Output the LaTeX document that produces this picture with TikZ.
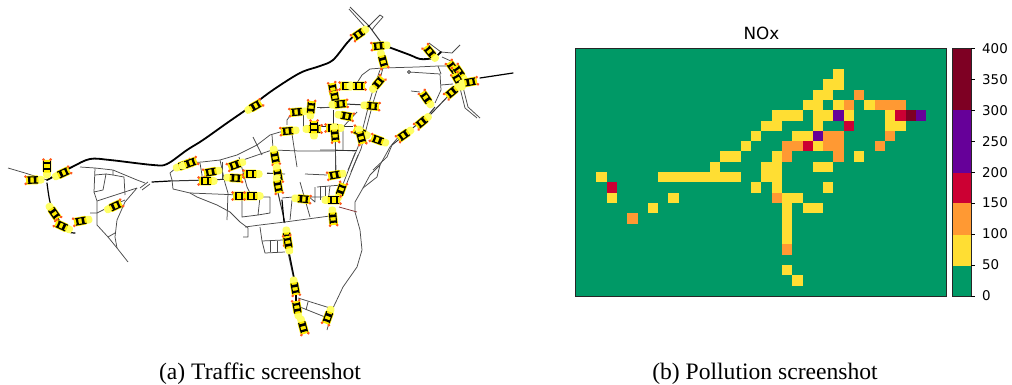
\documentclass[tikz,border=0pt]{standalone}
\usepackage{fontspec}
\setmainfont{Liberation Serif}
\newfontfamily\plotfont{DejaVu Sans}
\definecolor{aqiA}{HTML}{009966}
\definecolor{aqiB}{HTML}{FFDE33}
\definecolor{aqiC}{HTML}{FF9933}
\definecolor{aqiD}{HTML}{CC0033}
\definecolor{aqiE}{HTML}{660099}
\definecolor{aqiF}{HTML}{7E0023}
\definecolor{roadgray}{HTML}{4A4A4A}
\definecolor{tailyellow}{HTML}{FFFF66}
\definecolor{caryellow}{HTML}{FFEE00}
\definecolor{lampred}{HTML}{FF5A1E}
\tikzset{
  minor/.style={draw=roadgray,line width=0.75pt,line join=round},
  medium/.style={draw=black!80,line width=1pt,line join=round},
  major/.style={draw=black,line width=1.8pt,line join=round,line cap=round},
  ticklabel/.style={font=\plotfont\fontsize{13.4}{14}\selectfont,anchor=west,inner sep=0pt},
  capt/.style={font=\fontsize{23.6}{26}\selectfont,anchor=base,inner sep=0pt},
  car/.pic={
    \fill[tailyellow,rounded corners=3pt] (-11.5,-3.8) rectangle (0,3.8);
    \fill[caryellow,rounded corners=1pt] (-5.5,-4.4) rectangle (7,4.4);
    \fill[black] (-5,-3.7) rectangle (5.5,-2.6);
    \fill[black] (-5,2.6) rectangle (5.5,3.7);
    \fill[black] (-3.4,-3) rectangle (-0.8,3);
    \fill[black] (2.6,-3) rectangle (4.8,3);
    \fill[lampred] (7.4,-3.6) circle (1.5);
    \fill[lampred] (7.4,3.6) circle (1.5);
  }
}
\begin{document}
\begin{tikzpicture}[x=1pt,y=-1pt]
\useasboundingbox (0,0) rectangle (1012,385);
% --- road network ---
\foreach \p in {
 {(8,168) -- (25,173) -- (47,180)},
 {(80,167) -- (95,168) -- (113,170) -- (137,180) -- (145,183)},
 {(95,168) -- (94,192) -- (103,190) -- (106,174) -- (95,175)},
 {(113,170) -- (113,175) -- (124,177) -- (125,195)},
 {(106,174) -- (113,175)},
 {(94,192) -- (97,201) -- (97,225) -- (108,237) -- (117,248) -- (128,262)},
 {(97,201) -- (137,188)},
 {(148,182) -- (140,188)},{(150,184) -- (142,190)},
 {(137,188) -- (125,202) -- (117,220) -- (115,237) -- (117,248)},
 {(108,237) -- (115,233)},
 {(90,213) -- (97,213) -- (107,208) -- (125,200)},
 {(172,180) -- (170,173) -- (177,167) -- (187,163) -- (202,162) -- (220,160) -- (237,155) -- (257,145) -- (270,135) -- (280,132) -- (288,131)},
 {(172,180) -- (173,189) -- (190,193) -- (240,195)},
 {(190,193) -- (197,197) -- (217,205) -- (230,212) -- (240,222) -- (248,228) -- (248,237) -- (243,237)},
 {(200,163) -- (202,175) -- (202,180)},
 {(222,162) -- (222,180)},
 {(220,160) -- (225,183) -- (228,193) -- (227,220)},
 {(242,195) -- (242,217) -- (258,215) -- (270,213) -- (270,197) -- (260,197) -- (258,215)},
 {(239,157) -- (247,187) -- (250,193)},
 {(243,160) -- (272,150) -- (300,151) -- (335,151)},
 {(253,137) -- (262,155)},
 {(272,135) -- (273,148)},
 {(287,125) -- (287,120) -- (292,113)},
 {(292,134) -- (297,167)},
 {(267,173) -- (285,174)},{(305,174) -- (327,175)},
 {(245,227) -- (260,225) -- (285,222) -- (330,216)},
 {(282,198) -- (293,197) -- (327,197)},
 {(292,200) -- (290,220)},
 {(300,182) -- (310,217)},
 {(317,187) -- (342,185)},
 {(315,187) -- (315,202) -- (308,196)},
 {(320,186) -- (320,200)},{(325,186) -- (325,198)},{(330,186) -- (328,202)},
 {(335,128) -- (335,173)},
 {(355,153) -- (340,192)},{(358,155) -- (343,193)},
 {(343,150) -- (343,127) -- (357,112)},
 {(355,212) -- (360,230) -- (362,250) -- (357,267) -- (343,287) -- (333,308) -- (327,330)},
 {(355,212) -- (355,202) -- (363,188) -- (370,175) -- (380,165) -- (390,147) -- (400,135)},
 {(380,165) -- (377,177) -- (363,188)},
 {(298,298) -- (330,308)},{(300,307) -- (325,317)},{(308,302) -- (306,310)},
 {(260,227) -- (262,241) -- (265,253) -- (285,252)},
 {(262,241) -- (283,240)},{(270,241) -- (270,252)},{(277,241) -- (277,252)},
 {(320,108) -- (332,107)},{(317,107) -- (330,107)},
 {(303,115) -- (303,127)},{(303,127) -- (323,125)},
 {(383,68) -- (370,69) -- (362,75) -- (357,83)},
 {(380,70) -- (373,90) -- (370,100) -- (365,120) -- (358,147) -- (348,170)},
 {(383,68) -- (377,90) -- (373,103) -- (368,122) -- (361,149) -- (351,172)},
 {(409,72) -- (440,74) -- (441,90) -- (435,103)},
 {(383,68) -- (417,67) -- (438,66) -- (448,66) -- (453,70)},
 {(438,66) -- (441,74)},{(441,85) -- (453,84)},
 {(411,91) -- (420,92)},
 {(429,43) -- (441,52) -- (452,53) -- (460,45)},
 {(442,57) -- (453,62) -- (463,80)},
 {(463,87) -- (468,107) -- (480,118)},{(460,88) -- (465,108) -- (477,118)},
 {(392,145) -- (387,157) -- (373,170)},
 {(369,26) -- (350,7)},{(366,28) -- (349,9)},
 {(369,26) -- (380,15) -- (383,17) -- (375,26) -- (372,30)},
 {(320,150) -- (335,150) -- (355,151)},{(335,133) -- (336,170)}
}{ \draw[minor] \p; }
\draw[minor,draw=black!60!red!80] (339,207) -- (357,212);
\draw[minor,fill=white] (409,72) circle (1.5);
\foreach \p in {
 {(170,181) -- (207,180) -- (233,179) -- (243,177) -- (259,173)},
 {(267,173) -- (275,173)},
 {(278,193) -- (285,223)},
 {(345,104) -- (365,105)},
 {(320,127) -- (353,127)},
 {(333,110) -- (333,127)},
 {(335,151) -- (357,151)},
 {(435,107) -- (430,113) -- (420,122) -- (402,137) -- (392,145)},
 {(430,115) -- (452,92)},
 {(288,252) -- (294,280)},
 {(369,26) -- (383,45)}
}{ \draw[medium] \p; }
\draw[major] plot[smooth,tension=0.55] coordinates {(47,180) (72,167) (90,159) (110,160) (153,165) (167,164) (187,150) (203,140) (227,123) (250,107) (273,90) (300,73) (320,66) (333,60) (347,43) (357,33) (369,26)};
\draw[major,line width=1.2pt] plot[smooth,tension=0.55] coordinates {(47,183) (50,202) (55,212) (65,230) (75,233)};
\draw[major,line width=1.2pt] (152,182) -- (170,181);
\draw[major] plot[smooth,tension=0.55] coordinates {(383,45) (410,55) (420,59) (433,58) (441,52)};
\draw[major,line width=1.2pt] (480,78) -- (513,73);
\draw[major,line width=1.2pt] (282,200) -- (284,222);
\draw[major,line width=1.2pt] (289,252) -- (295,282);
\draw[major,line width=1.2pt] (296,295) -- (296,302);
% --- vehicles ---
\foreach \x/\y/\a in {
 33/180/182, 47/167/90, 63/173/25, 54/213/-55, 62/226/155, 81/221/190,
 115/206/25, 184/165/20, 190/163/20, 211/172/190, 206/181/180, 235/165/200,
 235/178/-3, 251/174/180, 240/196/180, 252/196/180,
 255/106/30, 275/157/-80, 278/175/-80, 278/186/-80, 288/131/185, 297/112/185,
 311/108/85, 314/129/0, 314/128/90, 333/128/180, 335/135/-85,
 335/175/190, 341/190/70, 333/200/0, 333/218/-85, 303/199/-5, 346/116/-10,
 333/90/100, 335/98/100, 340/104/5, 347/86/180, 358/86/0,
 372/106/-5, 360/132/155, 361/137/-75, 378/140/160,
 359/34/215, 379/46/185, 383/61/-75, 378/83/50, 430/52/130,
 453/68/125, 459/72/125, 458/80/120, 470/82/10, 452/92/220, 426/98/125,
 422/122/220, 404/135/215,
 287/238/-85, 288/243/100, 295/288/-80, 297/308/100, 303/327/-75, 328/317/-110
}{ \pic[rotate=\a] at (\x,\y) {car}; }
% --- pollution map ---
\fill[aqiA] (575.7,48.3) rectangle (946.7,296);
\foreach \r/\cs in {2/{25},3/{24,25},4/{23,24},5/{22,23,25,28},6/{19,20,21,23,24,26,30},7/{18,19,23,30,31},8/{17,21,22},9/{16,23},10/{14,15,19,27},11/{13,18,19,23,24},12/{2,8,9,10,11,12,13,14,15,18,19},13/{17,19,24},14/{3,9,20,21},15/{7,20,22,23},16/{20},17/{20},18/{20},21/{20},22/{21}}
  \foreach \c in \cs { \fill[aqiB] ({575.7+\c*10.31},{48.3+\r*10.32}) rectangle +(10.31,10.32); }
\foreach \r/\cs in {4/{27},5/{26,29,30,31},8/{24,25,30},9/{20,21,24,25,29},10/{20,25},14/{19},16/{5},19/{20}}
  \foreach \c in \cs { \fill[aqiC] ({575.7+\c*10.31},{48.3+\r*10.32}) rectangle +(10.31,10.32); }
\foreach \r/\cs in {6/{31},7/{26},9/{22},13/{3}}
  \foreach \c in \cs { \fill[aqiD] ({575.7+\c*10.31},{48.3+\r*10.32}) rectangle +(10.31,10.32); }
\foreach \r/\cs in {6/{25,33},8/{23}}
  \foreach \c in \cs { \fill[aqiE] ({575.7+\c*10.31},{48.3+\r*10.32}) rectangle +(10.31,10.32); }
\fill[aqiF] ({575.7+32*10.31},{48.3+6*10.32}) rectangle +(10.31,10.32);
\draw[black!85,line width=0.9pt] (575.7,48.3) rectangle (946.7,296);
\node[font=\plotfont\fontsize{16.8}{18}\selectfont,anchor=base,inner sep=0pt] (title) at (761.5,40) {NOx};
% --- colour bar ---
\fill[aqiA] (952.7,296) rectangle (971,266);
\fill[aqiB] (952.7,266) rectangle (971,234.5);
\fill[aqiC] (952.7,234.5) rectangle (971,203.3);
\fill[aqiD] (952.7,203.3) rectangle (971,172.5);
\fill[aqiE] (952.7,172.5) rectangle (971,110.2);
\fill[aqiF] (952.7,110.2) rectangle (971,48.3);
\draw[black!85,line width=0.9pt] (952.7,48.3) rectangle (971,296);
\foreach \v/\n [evaluate=\n as \yy using {296-\n*30.96}] in {0/0,50/1,100/2,150/3,200/4,250/5,300/6,350/7,400/8} {
  \draw[black,line width=0.7pt] (971,\yy) -- (975,\yy);
  \node[ticklabel] (tick\v) at (982,\yy) {\v};
}
% --- captions ---
\node[capt] (capa) at (260,379) {(a) Traffic screenshot};
\node[capt] (capb) at (765,379) {(b) Pollution screenshot};
\end{tikzpicture}
\end{document}
